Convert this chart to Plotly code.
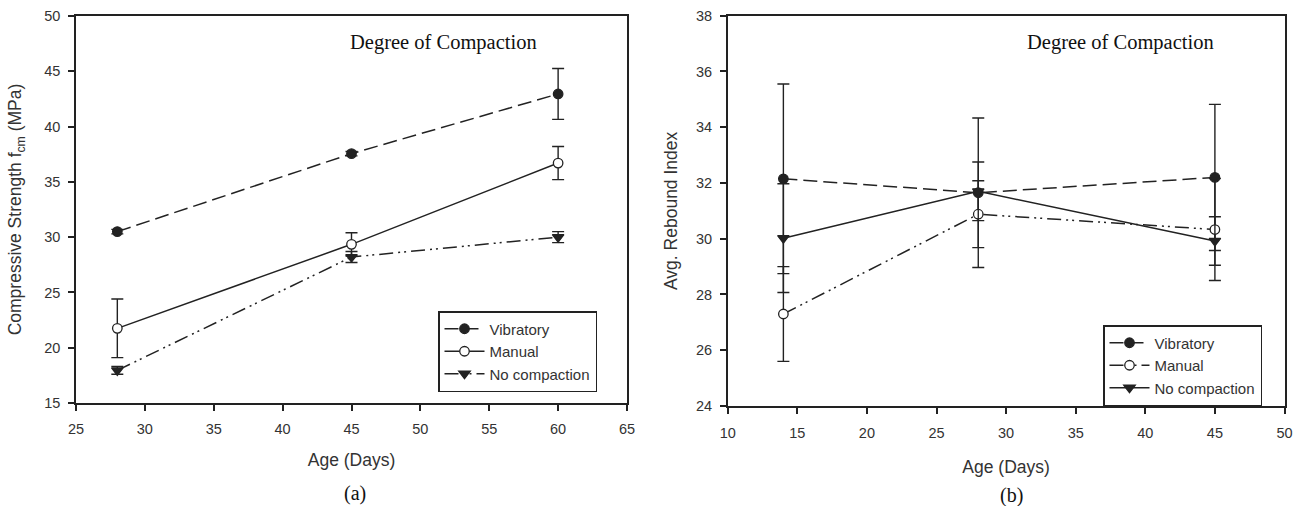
import plotly.graph_objects as go

# ---------------- data ----------------
series_names = ["Vibratory", "Manual", "No compaction"]

days_a = [28, 45, 60]
vib_a = [30.5, 37.55, 42.95]
vib_a_err = [0.2, 0.2, 2.3]
man_a = [21.75, 29.35, 36.7]
man_a_err = [2.65, 1.05, 1.5]
noc_a = [17.95, 28.2, 30.0]
noc_a_err = [0.35, 0.5, 0.5]

days_b = [14, 28, 45]
vib_b = [32.15, 31.65, 32.2]
vib_b_err = [3.4, 2.68, 2.62]
man_b = [27.3, 30.88, 30.33]
man_b_err = [1.7, 1.2, 1.83]
noc_b = [30.02, 31.7, 29.92]
noc_b_err = [1.95, 1.05, 0.87]

xticks_a = [25, 30, 35, 40, 45, 50, 55, 60, 65]
yticks_a = [15, 20, 25, 30, 35, 40, 45, 50]
xticks_b = [10, 15, 20, 25, 30, 35, 40, 45, 50]
yticks_b = [24, 26, 28, 30, 32, 34, 36, 38]

# ---------------- styles ----------------
INK = "#222222"
TXT = "#333333"
SANS = "Liberation Sans, Arial, sans-serif"
SERIF = "Liberation Serif, Times New Roman, serif"
DASH = "14px,6px"
DASHDOTDOT = "14px,5px,2px,4px,2px,5px"

W, H = 1303, 506


def px_x(p):
    return p / W


def px_y(p):
    return (H - p) / H


fig = go.Figure()


def add(x, y, err, name, xa, ya, leg, dash, symbol, fill, size):
    fig.add_trace(go.Scatter(
        x=x, y=y, name=name, mode="lines+markers",
        xaxis=xa, yaxis=ya, legend=leg,
        line=dict(color=INK, width=1.5, dash=dash),
        marker=dict(symbol=symbol, size=size, color=fill,
                    line=dict(color=INK, width=1.3)),
        error_y=dict(type="data", array=err, visible=True,
                     color=INK, thickness=1.4, width=6),
    ))


# panel (a)
add(days_a, vib_a, vib_a_err, series_names[0], "x", "y", "legend", DASH, "circle", INK, 9.5)
add(days_a, man_a, man_a_err, series_names[1], "x", "y", "legend", "solid", "circle", "white", 9.5)
add(days_a, noc_a, noc_a_err, series_names[2], "x", "y", "legend", DASHDOTDOT, "triangle-down", INK, 10)

# panel (b)
add(days_b, vib_b, vib_b_err, series_names[0], "x2", "y2", "legend2", DASH, "circle", INK, 9.5)
add(days_b, man_b, man_b_err, series_names[1], "x2", "y2", "legend2", DASHDOTDOT, "circle", "white", 9.5)
add(days_b, noc_b, noc_b_err, series_names[2], "x2", "y2", "legend2", "solid", "triangle-down", INK, 10)

axis_common = dict(
    showline=True, linecolor=INK, linewidth=1.5, mirror=True,
    ticks="outside", ticklen=6, tickwidth=1.5, tickcolor=INK,
    showgrid=False, zeroline=False, automargin=False,
    tickfont=dict(family=SANS, size=14.5, color=TXT),
)
TITLE_FONT = dict(family=SANS, size=17.5, color=TXT)

legend_common = dict(
    bgcolor="white", bordercolor=INK, borderwidth=1.5,
    font=dict(family=SANS, size=15, color=TXT),
    xanchor="left", yanchor="top", tracegroupgap=0, itemwidth=40,
)

fig.update_layout(
    width=W, height=H,
    margin=dict(l=0, r=0, t=0, b=0),
    paper_bgcolor="white", plot_bgcolor="white",
    xaxis=dict(domain=[px_x(76), px_x(627)], range=[25, 65], tickvals=xticks_a,
               anchor="y", ticklabelstandoff=6,
               title=dict(text="Age (Days)", font=TITLE_FONT, standoff=18),
               **axis_common),
    yaxis=dict(domain=[px_y(403), px_y(16)], range=[15, 50], tickvals=yticks_a,
               anchor="x", ticklabelstandoff=5,
               title=dict(text="Compressive Strength f<sub>cm</sub> (MPa)",
                          font=TITLE_FONT, standoff=18),
               **axis_common),
    xaxis2=dict(domain=[px_x(727.7), px_x(1284.5)], range=[10, 50], tickvals=xticks_b,
                anchor="y2", ticklabelstandoff=7,
                title=dict(text="Age (Days)", font=TITLE_FONT, standoff=21),
                **axis_common),
    yaxis2=dict(domain=[px_y(406), px_y(15.7)], range=[24, 38], tickvals=yticks_b,
                anchor="x2", ticklabelstandoff=5,
                title=dict(text="Avg. Rebound Index", font=TITLE_FONT, standoff=14),
                **axis_common),
    legend=dict(x=px_x(438), y=px_y(311), **legend_common),
    legend2=dict(x=px_x(1103), y=px_y(325), **legend_common),
    showlegend=True,
    annotations=[
        dict(text="Degree of Compaction", x=px_x(443), y=px_y(43), xref="paper", yref="paper",
             xanchor="center", yanchor="middle",
             showarrow=False, font=dict(family=SERIF, size=20.5, color="#111111")),
        dict(text="Degree of Compaction", x=px_x(1120), y=px_y(43), xref="paper", yref="paper",
             xanchor="center", yanchor="middle",
             showarrow=False, font=dict(family=SERIF, size=20.5, color="#111111")),
        dict(text="(a)", x=px_x(354.6), y=px_y(493), xref="paper", yref="paper",
             xanchor="center", yanchor="middle",
             showarrow=False, font=dict(family=SERIF, size=20, color="#111111")),
        dict(text="(b)", x=px_x(1011), y=px_y(495), xref="paper", yref="paper",
             xanchor="center", yanchor="middle",
             showarrow=False, font=dict(family=SERIF, size=20, color="#111111")),
    ],
)

fig.write_html(
    "out.html",
    post_script="document.body.style.margin='0';document.body.style.overflow='hidden';",
)
